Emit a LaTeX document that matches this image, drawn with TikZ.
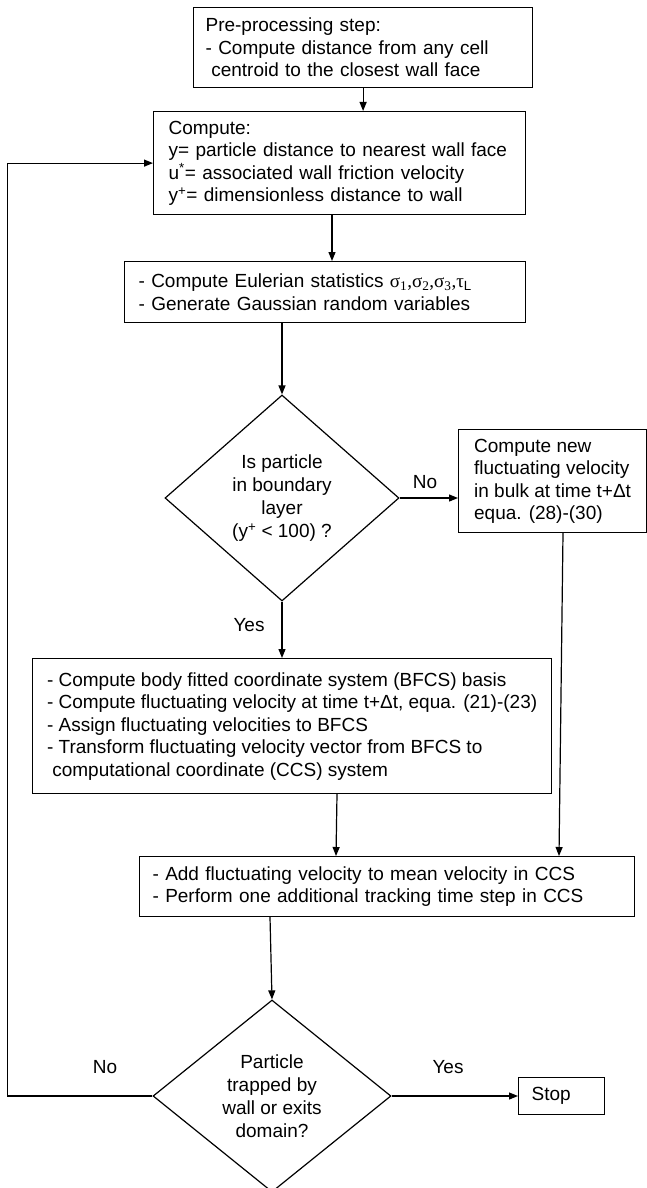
\documentclass[tikz,border=0pt]{standalone}
\usepackage{fontspec}
\setmainfont{Liberation Sans}
\newfontfamily\grk{Liberation Serif}
\usetikzlibrary{shapes.geometric,arrows.meta,calc}
\begin{document}
\begin{tikzpicture}[x=1pt,y=-1pt, line width=1.2pt,
  font=\fontsize{19}{22.5}\selectfont,
  box/.style={draw, rectangle, anchor=north west, align=left, inner ysep=0pt},
  dia/.style={draw, diamond, inner sep=0pt},
  arr/.style={-{Triangle[length=9pt,width=7pt]}},
  lbl/.style={inner sep=0pt}]
\useasboundingbox (0,0) rectangle (646,1188);

% boxes
\node[box, inner xsep=12pt, text width=315pt, minimum height=80pt] (b1) at (193,7)
  {Pre-processing step:\\- Compute distance from any cell\\\hspace*{0.3em}centroid to the closest wall face};
\node[box, inner xsep=15pt, text width=342pt, minimum height=103pt] (b2) at (153,111)
  {Compute:\\y= particle distance to nearest wall face\\u\textsuperscript{*}= associated wall friction velocity\\y\textsuperscript{+}= dimensionless distance to wall};
\node[box, inner xsep=14pt, text width=373pt, minimum height=61pt] (b3) at (124,261)
  {- Compute Eulerian statistics {\grk σ\textsubscript{1},σ\textsubscript{2},σ\textsubscript{3},τ}\textsubscript{L}\\- Generate Gaussian random variables};
\node[box, inner xsep=10pt, minimum width=188pt, minimum height=103pt] (bR) at (458,429)
  {Compute new\\fluctuating velocity\\in bulk at time t+Δt\\equa. (28)-(30)};
\node[box, inner xsep=10pt, minimum width=519pt, minimum height=135pt] (b4) at (32,658)
  {- Compute body fitted coordinate system (BFCS) basis\\- Compute fluctuating velocity at time t+Δt, equa. (21)-(23)\\- Assign fluctuating velocities to BFCS\\- Transform fluctuating velocity vector from BFCS to\\\hspace*{0.28em}computational coordinate (CCS) system};
\node[box, inner xsep=13pt, text width=469pt, minimum height=60pt] (b5) at (139,856)
  {- Add fluctuating velocity to mean velocity in CCS\\- Perform one additional tracking time step in CCS};
\node[box, inner xsep=13pt, text width=60pt, minimum height=37pt] (stop) at (518,1077) {Stop};

% diamonds
\node[dia, minimum width=234pt, minimum height=206pt] (d1) at (282,498) {};
\node[align=center, font=\fontsize{19}{23}\selectfont] (t1) at (d1) {Is particle\\in boundary\\layer\\(y\textsuperscript{+} < 100) ?};
\node[dia, minimum width=238pt, minimum height=192pt] (d2) at (272,1096) {};
\node[align=center, font=\fontsize{19}{23}\selectfont] (t2) at (d2) {Particle\\trapped by\\wall or exits\\domain?};

% labels
\node[lbl] (no1) at (425,482) {No};
\node[lbl] (yes1) at (249,625) {Yes};
\node[lbl] (no2) at (105,1067) {No};
\node[lbl] (yes2) at (448,1067) {Yes};

% connectors
\coordinate (fb) at (7.5,0);
\draw[arr] (b1.south) -- (b1.south |- b2.north);
\draw[arr] ($(b2.south west)+(179,0)$) -- ($(b3.north west)+(208,0)$);
\draw[arr] (b3.south -| d1.north) -- (d1.north);
\draw[arr] (d1.east) -- (d1.east -| bR.west);
\draw[arr] (d1.south) -- (d1.south |- b4.north);
\draw[arr] ($(bR.south west)+(105,0)$) -- ($(b5.north west)+(420,0)$);
\draw[arr] ($(b4.south west)+(305,0)$) -- ($(b5.north west)+(197,0)$);
\draw[arr] ($(b5.south west)+(131,0)$) -- (d2.north);
\draw[arr] (d2.east) -- (d2.east -| stop.west);
\draw[arr] (d2.west) -- (d2.west -| fb) -- (fb |- b2.west) -- (b2.west);
\end{tikzpicture}
\end{document}
